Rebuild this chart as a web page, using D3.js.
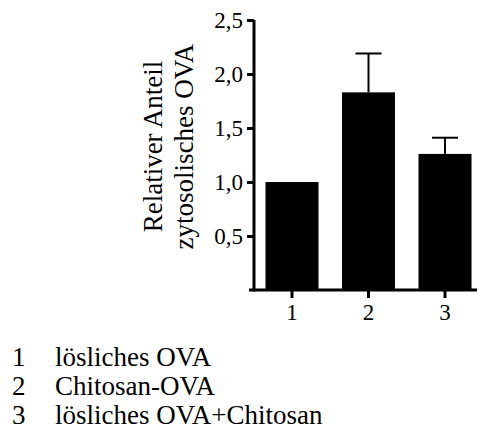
<!DOCTYPE html>
<html><head><meta charset="utf-8">
<script src="https://cdn.jsdelivr.net/npm/d3@7"></script>
<style>
html,body{margin:0;padding:0;background:#fff;}
svg{display:block;}
text{font-family:"Liberation Serif","DejaVu Serif",serif;fill:#000;}
</style></head>
<body><svg id="c" width="477" height="431"></svg>
<script>
const categories = ["1","2","3"];
const means = [1.0, 1.83, 1.26];
const errors = [0, 0.36, 0.15];
const yTicks = [0.5, 1.0, 1.5, 2.0, 2.5];
const legendLabels = ["lösliches OVA", "Chitosan-OVA", "lösliches OVA+Chitosan"];
const yTitle = ["Relativer Anteil", "zytosolisches OVA"];

const svg = d3.select("#c");
const x = d3.scaleBand().domain(categories).range([253.75, 483.25]).paddingInner(0.307).paddingOuter(0.1535);
const y = d3.scaleLinear().domain([0, 2.5]).range([290, 20]);
const fmt = d => d3.format(".1f")(d).replace(".", ",");

// bars
svg.append("g").selectAll("rect").data(categories).join("rect")
  .attr("x", d => x(d)).attr("width", x.bandwidth())
  .attr("y", (d,i) => y(means[i])).attr("height", (d,i) => y(0) - y(means[i]))
  .attr("fill", "#000");

// error bars
const eb = svg.append("g").attr("stroke", "#000").attr("stroke-width", 2);
categories.forEach((c,i) => {
  if (!errors[i]) return;
  const cx = x(c) + x.bandwidth()/2;
  eb.append("line").attr("x1", cx).attr("x2", cx).attr("y1", y(means[i])).attr("y2", y(means[i]+errors[i]));
  eb.append("line").attr("x1", cx-13).attr("x2", cx+13).attr("y1", y(means[i]+errors[i])).attr("y2", y(means[i]+errors[i]));
});

// y axis
const ya = svg.append("g").attr("transform", "translate(254,0)")
  .call(d3.axisLeft(y).tickValues(yTicks).tickFormat(fmt).tickSize(7).tickSizeOuter(0).tickPadding(4));
ya.select(".domain").remove();
ya.append("line").attr("x1",0).attr("x2",0).attr("y1", y(2.5)).attr("y2", y(0)+1.5).attr("stroke","#000").attr("stroke-width",3);
ya.selectAll(".tick line").attr("stroke-width", 3);
ya.selectAll(".tick text").attr("font-size", 23);

// x axis
const xa = svg.append("g").attr("transform", "translate(0,290)")
  .call(d3.axisBottom(x).tickSize(8).tickSizeOuter(0).tickPadding(6));
xa.select(".domain").remove();
xa.append("line").attr("x1", 249).attr("x2", 477).attr("y1",0).attr("y2",0).attr("stroke","#000").attr("stroke-width",3);
xa.selectAll(".tick line").attr("stroke-width", 3);
xa.selectAll(".tick text").attr("font-size", 23);

// y title
const yt = svg.append("text").attr("transform", "translate(162,146.5) rotate(-90)")
  .attr("text-anchor", "middle").attr("font-size", 27);
yt.selectAll("tspan").data(yTitle).join("tspan")
  .attr("x", 0).attr("dy", (d,i) => i ? 31 : 0).text(d => d);

// legend
const lg = svg.append("g");
categories.forEach((c,i) => {
  lg.append("text").attr("x", 12).attr("y", 366 + i*29).attr("font-size", 27).text(c);
  lg.append("text").attr("x", 55).attr("y", 366 + i*29).attr("font-size", 27).text(legendLabels[i]);
});
</script></body></html>
